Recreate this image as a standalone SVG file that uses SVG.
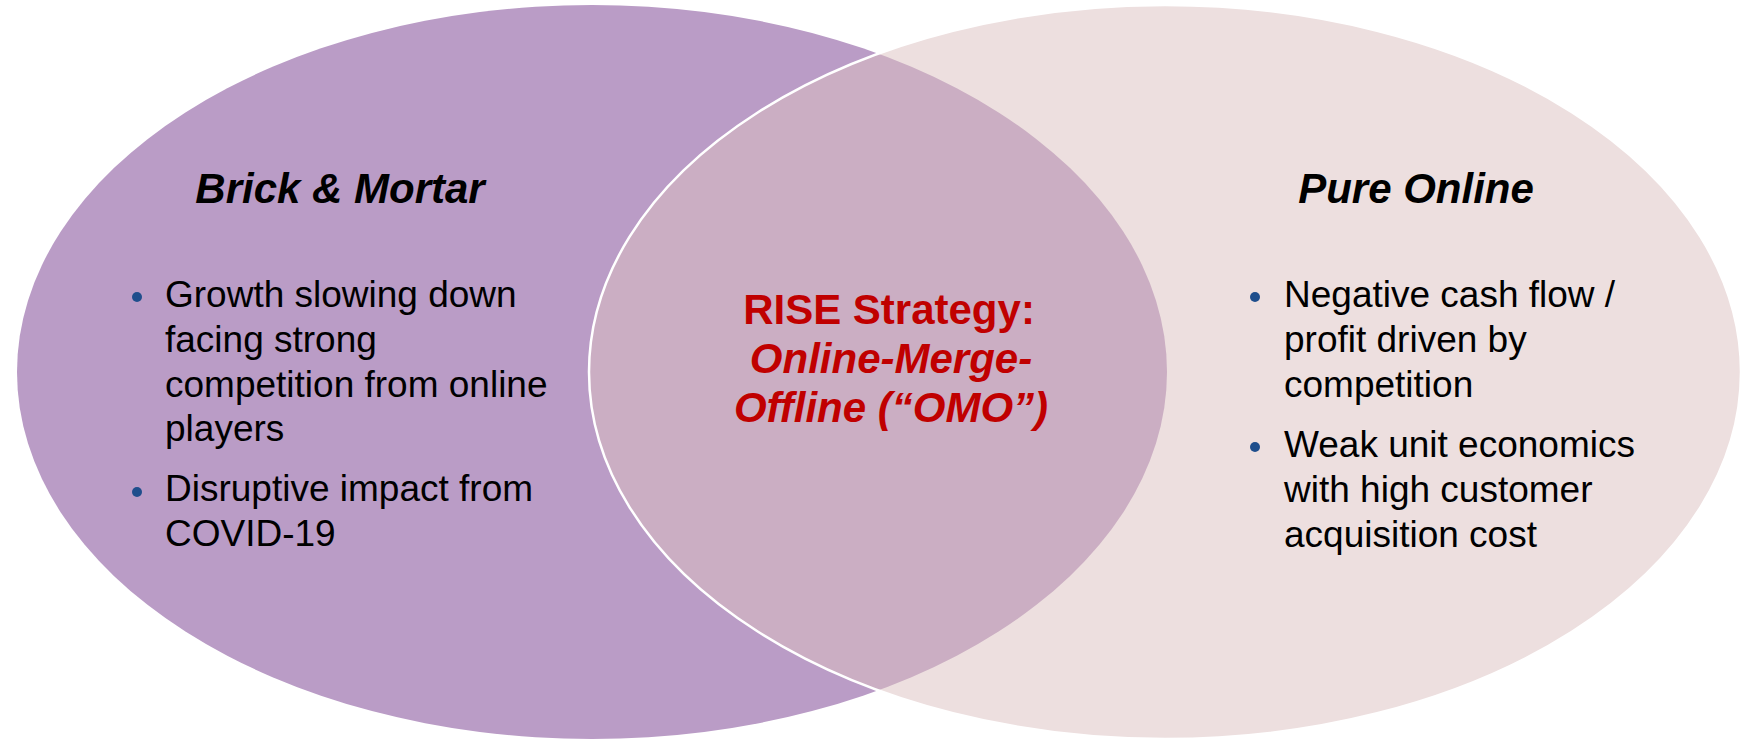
<svg xmlns="http://www.w3.org/2000/svg" width="1742" height="742" viewBox="0 0 1742 742">
<style>
.title{font-family:"Liberation Sans",Arial,sans-serif;font-size:42px;font-weight:bold;font-style:italic;fill:#000;text-anchor:middle}
.body{font-family:"Liberation Sans",Arial,sans-serif;font-size:37px;fill:#000}
.center{font-family:"Liberation Sans",Arial,sans-serif;font-size:42px;font-weight:bold;fill:#C00000;text-anchor:middle}
.dot{fill:#1F4E8C}
</style>
<rect width="1742" height="742" fill="#fff"/>
<g id="brick-mortar">
<ellipse cx="592" cy="372" rx="575" ry="367" fill="#BA9CC6"/>
</g>
<g id="pure-online">
<ellipse cx="1165" cy="372" rx="576" ry="367" fill="#DCC0C0" fill-opacity="0.51" stroke="#fff" stroke-width="2.5"/>
</g>
<g id="brick-mortar-text">
<text class="title" x="340" y="203">Brick &amp; Mortar</text>
<circle class="dot" cx="137" cy="297" r="5"/>
<text class="body" x="165" y="307">Growth slowing down</text>
<text class="body" x="165" y="352">facing strong</text>
<text class="body" x="165" y="397">competition from online</text>
<text class="body" x="165" y="441">players</text>
<circle class="dot" cx="137" cy="492" r="5"/>
<text class="body" x="165" y="501">Disruptive impact from</text>
<text class="body" x="165" y="546">COVID-19</text>
</g>
<g id="pure-online-text">
<text class="title" x="1416" y="203">Pure Online</text>
<circle class="dot" cx="1255" cy="297" r="5"/>
<text class="body" x="1284" y="307">Negative cash flow /</text>
<text class="body" x="1284" y="352">profit driven by</text>
<text class="body" x="1284" y="397">competition</text>
<circle class="dot" cx="1255" cy="447" r="5"/>
<text class="body" x="1284" y="457">Weak unit economics</text>
<text class="body" x="1284" y="502">with high customer</text>
<text class="body" x="1284" y="547">acquisition cost</text>
</g>
<g id="omo">
<text class="center" x="889" y="324">RISE Strategy:</text>
<text class="center" x="891" y="373" font-style="italic">Online-Merge-</text>
<text class="center" x="891" y="422" font-style="italic">Offline (“OMO”)</text>
</g>
<g id="connectors"/>
</svg>
